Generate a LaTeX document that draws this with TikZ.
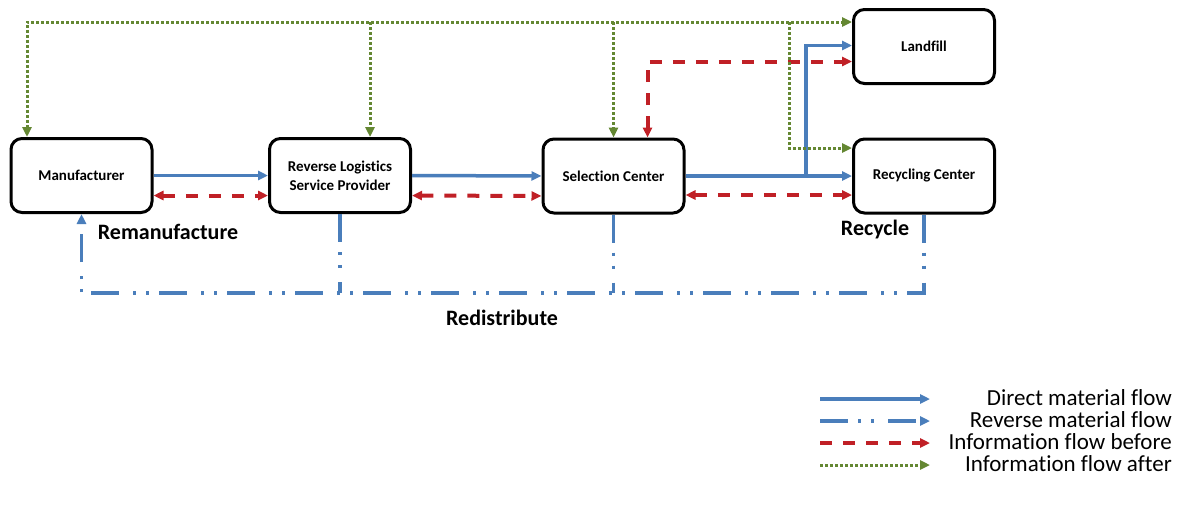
\documentclass[tikz,border=0pt]{standalone}
\usepackage{fontspec}
\setmainfont{Carlito}[Ligatures=NoCommon]
\usetikzlibrary{arrows.meta}
\definecolor{flowblue}{RGB}{74,126,187}
\definecolor{flowred}{RGB}{192,32,38}
\definecolor{flowgreen}{RGB}{100,135,50}

\begin{document}
\begin{tikzpicture}[x=1pt, y=-1pt,
        >={Triangle[length=10pt,width=9pt]},
        unit/.style={draw, line width=3pt, rounded corners=11pt, minimum width=141pt,
            minimum height=74pt, inner sep=0pt, align=center,
            font=\fontsize{15}{19}\selectfont\bfseries},
        flowlabel/.style={font=\fontsize{22}{26}\selectfont\bfseries},
        legtext/.style={anchor=east, inner sep=0pt, text height=13pt, text depth=4pt,
            font=\fontsize{23}{27}\selectfont},
        direct/.style={flowblue, line width=3.5pt},
        reverse/.style={flowblue, line width=3.5pt, dash pattern=on 28pt off 10pt on 3pt off 10pt on 3pt off 14pt},
        before/.style={flowred, line width=4pt, dash pattern=on 12pt off 11pt},
        after/.style={flowgreen, line width=3pt, dash pattern=on 2.5pt off 2.5pt}]
        \useasboundingbox (0,0) rectangle (1180,525);

        \node[unit] (manuf) at (81.5, 175.5) {Manufacturer};
        \node[unit] (rlsp)  at (340, 175.5) {Reverse Logistics\\Service Provider};
        \node[unit] (selc)  at (613.5, 176) {Selection Center};
        \node[unit] (recyc) at (924, 176) {Recycling Center};
        \node[unit] (landf) at (924, 46.5) {Landfill};

        \coordinate (g1) at (27, 22);
        \coordinate (g2) at (370, 22);
        \coordinate (g4) at (789, 22);
        \coordinate (bsplit) at (806, 176);
        \coordinate (rbot) at (81.5, 293);

        % direct material flow
        \draw[direct, ->] (manuf.east) -- (rlsp.west);
        \draw[direct, ->] (rlsp.east) -- (selc.west);
        \draw[direct, ->] (selc.east) -- (recyc.west);
        \draw[direct, ->] (bsplit) |- ([yshift=1pt]landf.west);

        % information flow before
        \draw[before, <->] ([yshift=-20pt]manuf.east) -- ([yshift=-20pt]rlsp.west);
        \draw[before, <->] ([yshift=-20pt]rlsp.east) -- ([yshift=-20pt]selc.west);
        \draw[before, <->] ([yshift=-19pt]selc.east) -- ([yshift=-19pt]recyc.west);
        \draw[before, <->] ([xshift=34pt]selc.north) |- ([yshift=-15pt]landf.west);

        % information flow after
        \draw[after, <->] (g1 |- manuf.north) -- (g1) -- (g1 -| landf.west);
        \draw[after, ->] (g2) -- (g2 |- rlsp.north);
        \draw[after, ->] (selc.north |- g1) -- (selc.north);
        \draw[after, ->] (g4) |- ([yshift=28pt]recyc.west);

        % reverse material flow
        \draw[reverse, ->] (recyc.south) |- (rbot) -- (manuf.south);
        \draw[reverse] (rlsp.south) -- (rlsp.south |- rbot);
        \draw[reverse] (selc.south) -- (selc.south |- rbot);

        \node[flowlabel] (reman) at (168, 232) {Remanufacture};
        \node[flowlabel] (recyl) at (875, 230) {Recycle};
        \node[flowlabel] (redis) at (502, 318) {Redistribute};

        % legend
        \node[legtext] (ldirect) at (1172, 401) {Direct material flow};
        \node[legtext] (lrev)    at (1172, 423) {Reverse material flow};
        \node[legtext] (lbefore) at (1172, 445) {Information flow before};
        \node[legtext] (lafter)  at (1172, 467) {Information flow after};
        \coordinate (la1) at (820, 399); \coordinate (lb1) at (930, 399);
        \coordinate (la2) at (820, 421); \coordinate (lb2) at (930, 421);
        \coordinate (la3) at (820, 443); \coordinate (lb3) at (930, 443);
        \coordinate (la4) at (820, 465); \coordinate (lb4) at (930, 465);
        \draw[direct, ->] (la1) -- (lb1);
        \draw[reverse, ->] (la2) -- (lb2);
        \draw[before, ->] (la3) -- (lb3);
        \draw[after, ->] (la4) -- (lb4);
    \end{tikzpicture}
\end{document}
